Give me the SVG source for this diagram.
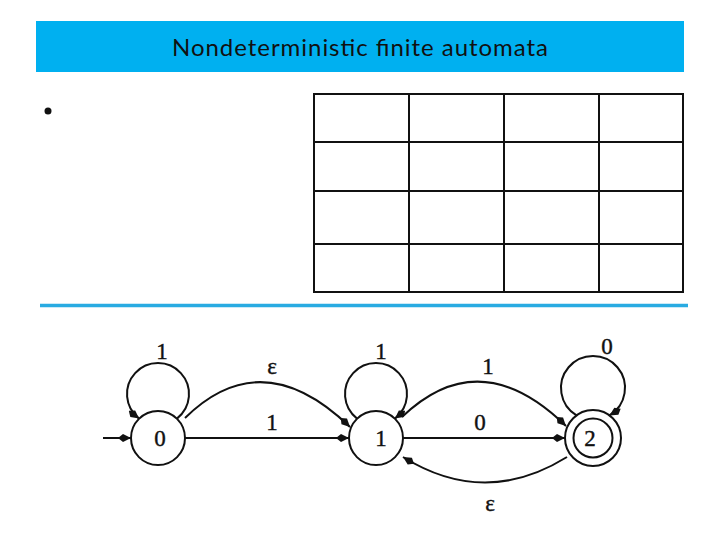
<svg xmlns="http://www.w3.org/2000/svg" width="720" height="540" viewBox="0 0 720 540">
<style>
.title{font-family:Lato,"Open Sans","Liberation Sans",sans-serif;font-size:24px;fill:#111}
.grid{stroke:#111;stroke-width:2;fill:none}
.st{fill:#fff;stroke:#111;stroke-width:2}
.edge{fill:none;stroke:#111;stroke-width:2}
.lbl{font-family:"Liberation Serif","DejaVu Serif",serif;font-size:23px;fill:#111;stroke:#111;stroke-width:0.4;text-anchor:middle}
</style>
<defs>
<marker id="ah" markerUnits="userSpaceOnUse" markerWidth="16" markerHeight="10" refX="13" refY="4.5" orient="auto">
<path d="M0,4.5 L5,0.5 L13,4.5 L5,8.5 Z" fill="#111"/>
</marker>
</defs>
<rect x="36" y="21" width="648" height="51" fill="#00B0F0"/>
<text class="title" x="360" y="56" text-anchor="middle" textLength="376" lengthAdjust="spacing">Nondeterministic finite automata</text>
<circle cx="48" cy="111" r="3.5" fill="#111"/>
<g id="table">
<rect class="grid" x="314" y="94" width="369" height="198"/>
<line class="grid" x1="409" y1="94" x2="409" y2="292"/>
<line class="grid" x1="504" y1="94" x2="504" y2="292"/>
<line class="grid" x1="599" y1="94" x2="599" y2="292"/>
<line class="grid" x1="314" y1="142" x2="683" y2="142"/>
<line class="grid" x1="314" y1="191" x2="683" y2="191"/>
<line class="grid" x1="314" y1="244" x2="683" y2="244"/>
</g>
<line x1="40" y1="305.5" x2="688" y2="305.5" stroke="#29ABE2" stroke-width="3.5"/>
<g id="connectors">
<line class="edge" x1="103" y1="438" x2="131" y2="438" marker-end="url(#ah)"/>
<path class="edge" d="M176.9,418.6 A31,31 0 1 0 139.1,418.6" marker-end="url(#ah)"/>
<path class="edge" d="M185,418 Q262,342 350,427" marker-end="url(#ah)"/>
<line class="edge" x1="185" y1="438" x2="349" y2="438" marker-end="url(#ah)"/>
<path class="edge" d="M357.1,418.6 A31,31 0 1 1 394.9,418.6" marker-end="url(#ah)"/>
<path class="edge" d="M402,417 Q480,342 566,426" marker-end="url(#ah)"/>
<line class="edge" x1="403" y1="438" x2="565" y2="438" marker-end="url(#ah)"/>
<path class="edge" d="M567,457 Q485,508 403,457" marker-end="url(#ah)"/>
<path class="edge" d="M576.5,415.4 A32,32 0 1 1 609.5,415.4" marker-end="url(#ah)"/>
</g>
<g id="labels">
<text class="lbl" x="162" y="359">1</text>
<text class="lbl" x="272" y="374">ε</text>
<text class="lbl" x="272" y="430">1</text>
<text class="lbl" x="381" y="359">1</text>
<text class="lbl" x="488" y="374">1</text>
<text class="lbl" x="480" y="430">0</text>
<text class="lbl" x="607" y="354">0</text>
<text class="lbl" x="490" y="511">ε</text>
</g>
<g id="state0">
<circle class="st" cx="158" cy="438" r="27"/>
<text class="lbl" x="160" y="446">0</text>
</g>
<g id="state1">
<circle class="st" cx="376" cy="438" r="27"/>
<text class="lbl" x="381" y="446">1</text>
</g>
<g id="state2">
<circle class="st" cx="593" cy="438" r="28"/>
<circle class="st" cx="593" cy="438" r="19.5"/>
<text class="lbl" x="590" y="446">2</text>
</g>
</svg>
